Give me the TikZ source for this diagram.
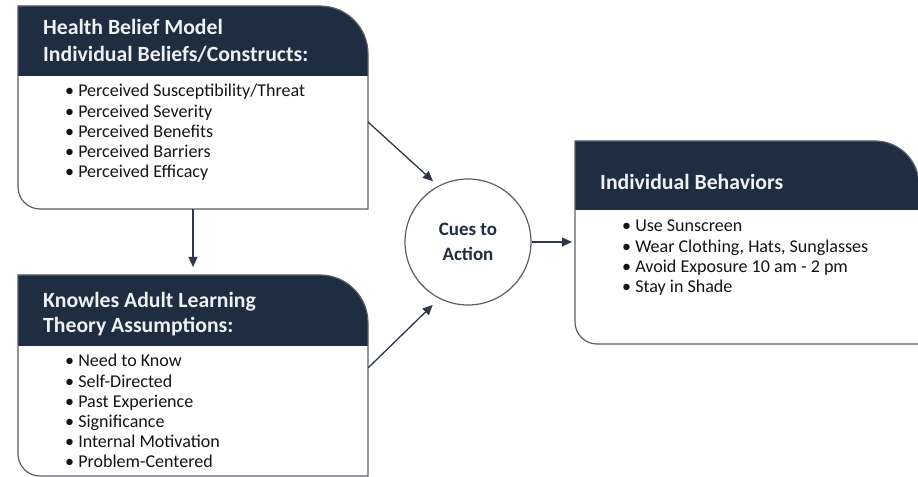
\documentclass[tikz,border=0pt]{standalone}
\usepackage{fontspec}
\setmainfont{Carlito}
\usetikzlibrary{arrows.meta,calc}
\definecolor{navy}{HTML}{1F2D40}
\definecolor{edgegray}{HTML}{5A5F66}
\definecolor{arrcol}{HTML}{2E3846}
\definecolor{hdtext}{HTML}{EEF1F4}
\definecolor{bodytext}{HTML}{141414}
\tikzset{
  area/.style={inner sep=0pt, outer sep=0pt},
  hd/.style={anchor=base west, inner sep=0pt, text=hdtext, font=\bfseries\fontsize{21.8}{25}\selectfont},
  bl/.style={anchor=base west, inner sep=0pt, text=bodytext, font=\fontsize{18.1}{20}\selectfont},
  panelline/.style={draw=edgegray, line width=1.2bp},
  conn/.style={draw=arrcol, line width=1.3bp, -{Triangle[length=10bp,width=9bp]}},
}
\newcommand{\drawpanel}[4]{% name, header height, top-right radius, bottom-left radius
  \fill[navy] ($(#1.north west)+(0,-#2)$) -- (#1.north west) -- ($(#1.north east)+(-#3,0)$)
     arc[start angle=90,end angle=0,radius=#3bp] -- ($(#1.north east)+(0,-#2)$) -- cycle;
  \draw[panelline] ($(#1.south west)+(0,#4)$) -- (#1.north west) -- ($(#1.north east)+(-#3,0)$)
     arc[start angle=90,end angle=0,radius=#3bp] -- (#1.south east) -- ($(#1.south west)+(#4,0)$)
     arc[start angle=270,end angle=180,radius=#4bp] -- cycle;
}
\begin{document}
\begin{tikzpicture}[x=1bp,y=1bp]
\fill[white] (0,0) rectangle (918,477);
\clip (0,0) rectangle (918,477);
% panel areas
\node[area, minimum width=350bp, minimum height=203bp] (hbm) at (193,369.5) {};
\node[area, minimum width=350bp, minimum height=201bp] (kal) at (193,101.5) {};
\node[area, minimum width=344bp, minimum height=203bp] (beh) at (747,234.5) {};
\drawpanel{hbm}{70}{48}{22}
\drawpanel{kal}{71}{48}{22}
\drawpanel{beh}{69}{44}{22}
% headers
\node[hd] (hbm-h1) at (43,442) {Health Belief Model};
\node[hd] (hbm-h2) at (43,415) {Individual Beliefs/Constructs:};
\node[hd] (kal-h1) at (43,169) {Knowles Adult Learning};
\node[hd] (kal-h2) at (43,144) {Theory Assumptions:};
\node[hd] (beh-h1) at (600,287) {Individual Behaviors};
% bullets
\foreach \t [count=\i] in {Perceived Susceptibility/Threat, Perceived Severity, Perceived Benefits, Perceived Barriers, Perceived Efficacy}
  \node[bl] (hbm-b\i) at (65,{380-20.25*(\i-1)}) {\textbullet\ \t};
\foreach \t [count=\i] in {Need to Know, Self-Directed, Past Experience, Significance, Internal Motivation, Problem-Centered}
  \node[bl] (kal-b\i) at (65,{110-20.2*(\i-1)}) {\textbullet\ \t};
\foreach \t [count=\i] in {Use Sunscreen, {Wear Clothing, Hats, Sunglasses}, Avoid Exposure 10 am - 2 pm, Stay in Shade}
  \node[bl] (beh-b\i) at (622,{245-20.3*(\i-1)}) {\textbullet\ \t};
% circle
\node[circle, draw=edgegray, line width=1.2bp, minimum size=126bp, inner sep=0pt, align=center,
      text=navy, font=\bfseries\fontsize{19}{25}\selectfont] (cue) at (468,235) {Cues to\\Action};
% connectors
\draw[conn] (hbm.south) -- ([yshift=8bp]kal.north);
\draw[conn, shorten >=7bp] ([yshift=-14.5bp]hbm.east) -- (cue.118);
\draw[conn, shorten >=9bp] ([yshift=7.5bp]kal.east) -- (cue.243);
\draw[conn, shorten >=3bp] (cue.east) -- (cue.east -| beh.west);
\end{tikzpicture}
\end{document}
